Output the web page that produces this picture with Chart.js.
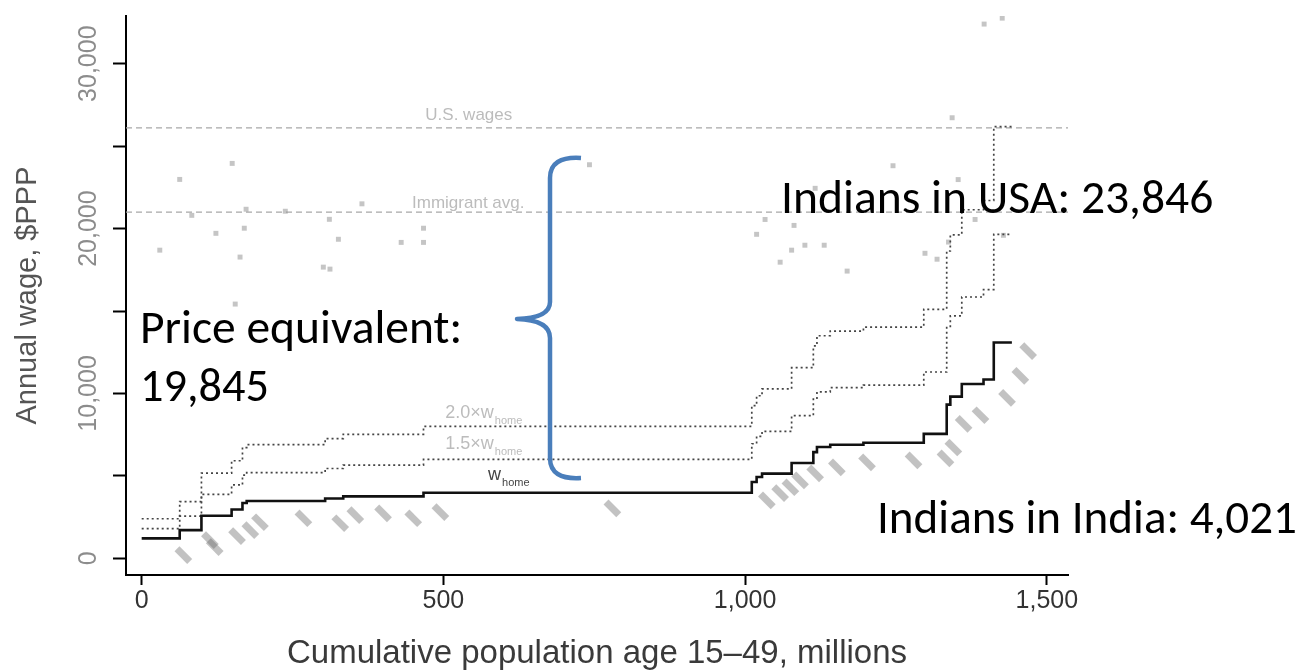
<!DOCTYPE html>
<html>
<head>
<meta charset="utf-8">
<script src="https://cdn.jsdelivr.net/npm/chart.js@4.4.1/dist/chart.umd.min.js"></script>
<style>
  html, body { margin: 0; padding: 0; background: #fff; }
  canvas { display: block; }
</style>
</head>
<body>
<canvas id="wageChart" width="1304" height="670"></canvas>
<script>
// step breakpoints, cumulative population age 15-49 (millions)
var stepX = [0, 63, 99, 149, 167, 174, 304, 334, 467, 1011, 1019, 1028, 1077, 1113, 1119, 1141, 1196, 1296, 1334, 1340, 1359, 1395, 1412, 1442];
// wage at home, and 1.5x / 2.0x of it
var wHome = [1210, 1710, 2580, 2960, 3360, 3480, 3630, 3760, 3980, 4630, 4930, 5140, 5780, 6440, 6750, 6890, 7010, 7550, 9320, 9810, 10570, 10850, 13090, 13090];
var w15 = [1800, 2560, 3880, 4450, 5050, 5200, 5450, 5650, 6000, 6950, 7400, 7700, 8650, 9650, 10100, 10350, 10500, 11300, 14000, 14700, 15850, 16300, 19650, 19650];
var w20 = [2400, 3440, 5170, 5920, 6720, 6900, 7260, 7520, 8000, 9260, 9860, 10280, 11560, 12880, 13500, 13780, 14020, 15100, 18640, 19620, 21140, 21700, 26180, 26180];

// immigrant wages in the U.S., by country
var immX = [30, 63, 83, 123, 150, 155, 163, 170, 173, 238, 301, 311, 312, 326, 365, 430, 467, 467, 742, 1019, 1033, 1058, 1077, 1081, 1099, 1116, 1131, 1169, 1245, 1298, 1318, 1337, 1343, 1353, 1381, 1396, 1426, 1428];
var immY = [18690, 22980, 20800, 19710, 23950, 15420, 18270, 20020, 21170, 21050, 17660, 20560, 17540, 19350, 21500, 19160, 19160, 20020, 23870, 19650, 20550, 17960, 18690, 20190, 18990, 22440, 18990, 17420, 23810, 18500, 18140, 19180, 26720, 22970, 20550, 32400, 32760, 19590];

// country markers along the home wage curve
var homeLblX = [69, 113, 121, 158, 180, 196, 268, 329, 354, 400, 450, 495, 780, 1036, 1058, 1075, 1091, 1116, 1152, 1202, 1279, 1332, 1345, 1362, 1390, 1434, 1456, 1469];
var homeLblY = [200, 1110, 680, 1350, 1710, 2190, 2430, 2130, 2620, 2730, 2430, 2800, 3030, 3520, 3950, 4310, 4730, 5150, 5520, 5820, 5940, 6060, 6720, 8150, 8680, 9730, 11070, 12570];

var refLabels = ['U.S. wages', 'Immigrant avg.'];
var refValues = [26100, 21000];

var xTicks = [0, 500, 1000, 1500];
var yTicks = [0, 5000, 10000, 15000, 20000, 25000, 30000];
var xMin = -26, xMax = 1535, yMin = -1010, yMax = 32890;

function pts(xs, ys) {
  return xs.map(function (x, i) { return { x: x, y: ys[i] }; });
}
function hline(v) {
  return [{ x: xMin, y: v }, { x: xMax, y: v }];
}

var sans = '"Liberation Sans", Arial, sans-serif';
var slideFont = 'Carlito, Lato, "Open Sans", sans-serif';

function fitText(ctx, text, x, y, w) {
  ctx.font = '40px ' + slideFont;
  var size = 40 * w / ctx.measureText(text).width;
  ctx.font = size.toFixed(1) + 'px ' + slideFont;
  ctx.fillText(text, x, y);
}

function subLabel(ctx, main, sub, x, y, color) {
  ctx.fillStyle = color;
  ctx.font = '18px ' + sans;
  ctx.fillText(main, x, y);
  var w = ctx.measureText(main).width;
  ctx.font = '11px ' + sans;
  ctx.fillText(sub, x + w + 1, y + 6);
}

var overlay = {
  id: 'overlay',
  afterDatasetsDraw: function (chart) {
    var ctx = chart.ctx, xs = chart.scales.x, ys = chart.scales.y;
    ctx.save();
    ctx.textBaseline = 'alphabetic';
    ctx.textAlign = 'left';

    // labels for the reference lines
    ctx.fillStyle = '#bcbcbc';
    ctx.font = '17px ' + sans;
    ctx.fillText(refLabels[0], xs.getPixelForValue(470), ys.getPixelForValue(26600));
    ctx.fillText(refLabels[1], xs.getPixelForValue(448), ys.getPixelForValue(21250));

    // labels for the step lines
    subLabel(ctx, '2.0\u00d7w', 'home', xs.getPixelForValue(503), ys.getPixelForValue(8540), '#bcbcbc');
    subLabel(ctx, '1.5\u00d7w', 'home', xs.getPixelForValue(503), ys.getPixelForValue(6660), '#bcbcbc');
    subLabel(ctx, 'w', 'home', xs.getPixelForValue(574), ys.getPixelForValue(4730), '#444');

    // brace
    ctx.strokeStyle = '#4a7ebb';
    ctx.lineWidth = 4.5;
    ctx.lineJoin = 'round';
    ctx.beginPath();
    ctx.moveTo(581, 158);
    ctx.quadraticCurveTo(550, 156, 550, 178);
    ctx.lineTo(550, 302);
    ctx.quadraticCurveTo(550, 318, 517, 319);
    ctx.quadraticCurveTo(550, 320, 550, 338);
    ctx.lineTo(550, 458);
    ctx.quadraticCurveTo(550, 480, 581, 478);
    ctx.stroke();

    // slide annotations
    ctx.fillStyle = '#000';
    fitText(ctx, 'Price equivalent:', 140, 343, 322);
    fitText(ctx, '19,845', 140, 401, 129);
    fitText(ctx, 'Indians in USA: 23,846', 781, 213, 432);
    fitText(ctx, 'Indians in India: 4,021', 877, 533, 420);
    ctx.restore();
  }
};

var ctx = document.getElementById('wageChart').getContext('2d');
var wageChart = new Chart(ctx, {
  type: 'scatter',
  data: {
    datasets: [
      {
        label: 'w home',
        data: pts(stepX, wHome),
        showLine: true,
        stepped: true,
        borderColor: '#111',
        borderWidth: 2.6,
        pointRadius: 0,
        order: 1
      },
      {
        label: '1.5 x w home',
        data: pts(stepX, w15),
        showLine: true,
        stepped: true,
        borderColor: '#444',
        borderWidth: 1.7,
        borderDash: [2, 3],
        pointRadius: 0,
        order: 2
      },
      {
        label: '2.0 x w home',
        data: pts(stepX, w20),
        showLine: true,
        stepped: true,
        borderColor: '#444',
        borderWidth: 1.7,
        borderDash: [2, 3],
        pointRadius: 0,
        order: 3
      },
      {
        label: 'countries',
        data: pts(homeLblX, homeLblY),
        pointStyle: 'line',
        rotation: 45,
        pointRadius: 9,
        borderWidth: 7,
        borderColor: 'rgba(110, 110, 110, 0.42)',
        backgroundColor: 'rgba(110, 110, 110, 0.42)',
        order: 4
      },
      {
        label: 'immigrants',
        data: pts(immX, immY),
        pointStyle: 'rect',
        pointRadius: 3.5,
        borderWidth: 0,
        backgroundColor: 'rgba(150, 150, 150, 0.55)',
        order: 5
      },
      {
        label: refLabels[0],
        data: hline(refValues[0]),
        showLine: true,
        borderColor: '#a8a8a8',
        borderWidth: 1.3,
        borderDash: [6, 4],
        pointRadius: 0,
        order: 6
      },
      {
        label: refLabels[1],
        data: hline(refValues[1]),
        showLine: true,
        borderColor: '#a8a8a8',
        borderWidth: 1.3,
        borderDash: [6, 4],
        pointRadius: 0,
        order: 7
      }
    ]
  },
  options: {
    responsive: false,
    animation: false,
    layout: {
      padding: { left: 0, top: 14, right: 236, bottom: 0 }
    },
    plugins: {
      legend: { display: false },
      tooltip: { enabled: false }
    },
    scales: {
      x: {
        type: 'linear',
        min: xMin,
        max: xMax,
        afterBuildTicks: function (axis) {
          axis.ticks = xTicks.map(function (v) { return { value: v }; });
        },
        afterFit: function (scale) { scale.height = 95; },
        border: { display: true, color: '#000', width: 2 },
        grid: { drawOnChartArea: false, drawTicks: true, tickLength: 10, tickColor: '#000', tickWidth: 2 },
        ticks: {
          padding: 1,
          color: '#333',
          font: { family: sans, size: 25 },
          callback: function (v) { return v.toLocaleString('en-US'); }
        },
        title: {
          display: true,
          text: 'Cumulative population age 15\u201349, millions',
          color: '#3a3a3a',
          font: { family: sans, size: 33, lineHeight: 1 },
          padding: { top: 0, bottom: 0 }
        }
      },
      y: {
        type: 'linear',
        min: yMin,
        max: yMax,
        afterBuildTicks: function (axis) {
          axis.ticks = yTicks.map(function (v) { return { value: v }; });
        },
        afterFit: function (scale) { scale.width = 126; },
        border: { display: true, color: '#000', width: 2 },
        grid: { drawOnChartArea: false, drawTicks: true, tickLength: 13, tickColor: '#000', tickWidth: 2 },
        ticks: {
          autoSkip: false,
          minRotation: 90,
          maxRotation: 90,
          crossAlign: 'center',
          padding: -14,
          color: '#8c8c8c',
          font: { family: sans, size: 25 },
          callback: function (v) { return v % 10000 === 0 ? v.toLocaleString('en-US') : ''; }
        },
        title: {
          display: true,
          text: 'Annual wage, $PPP',
          color: '#555',
          font: { family: sans, size: 29, lineHeight: 1 },
          padding: { top: 13, bottom: 0 }
        }
      }
    }
  },
  plugins: [overlay]
});
</script>
</body>
</html>
